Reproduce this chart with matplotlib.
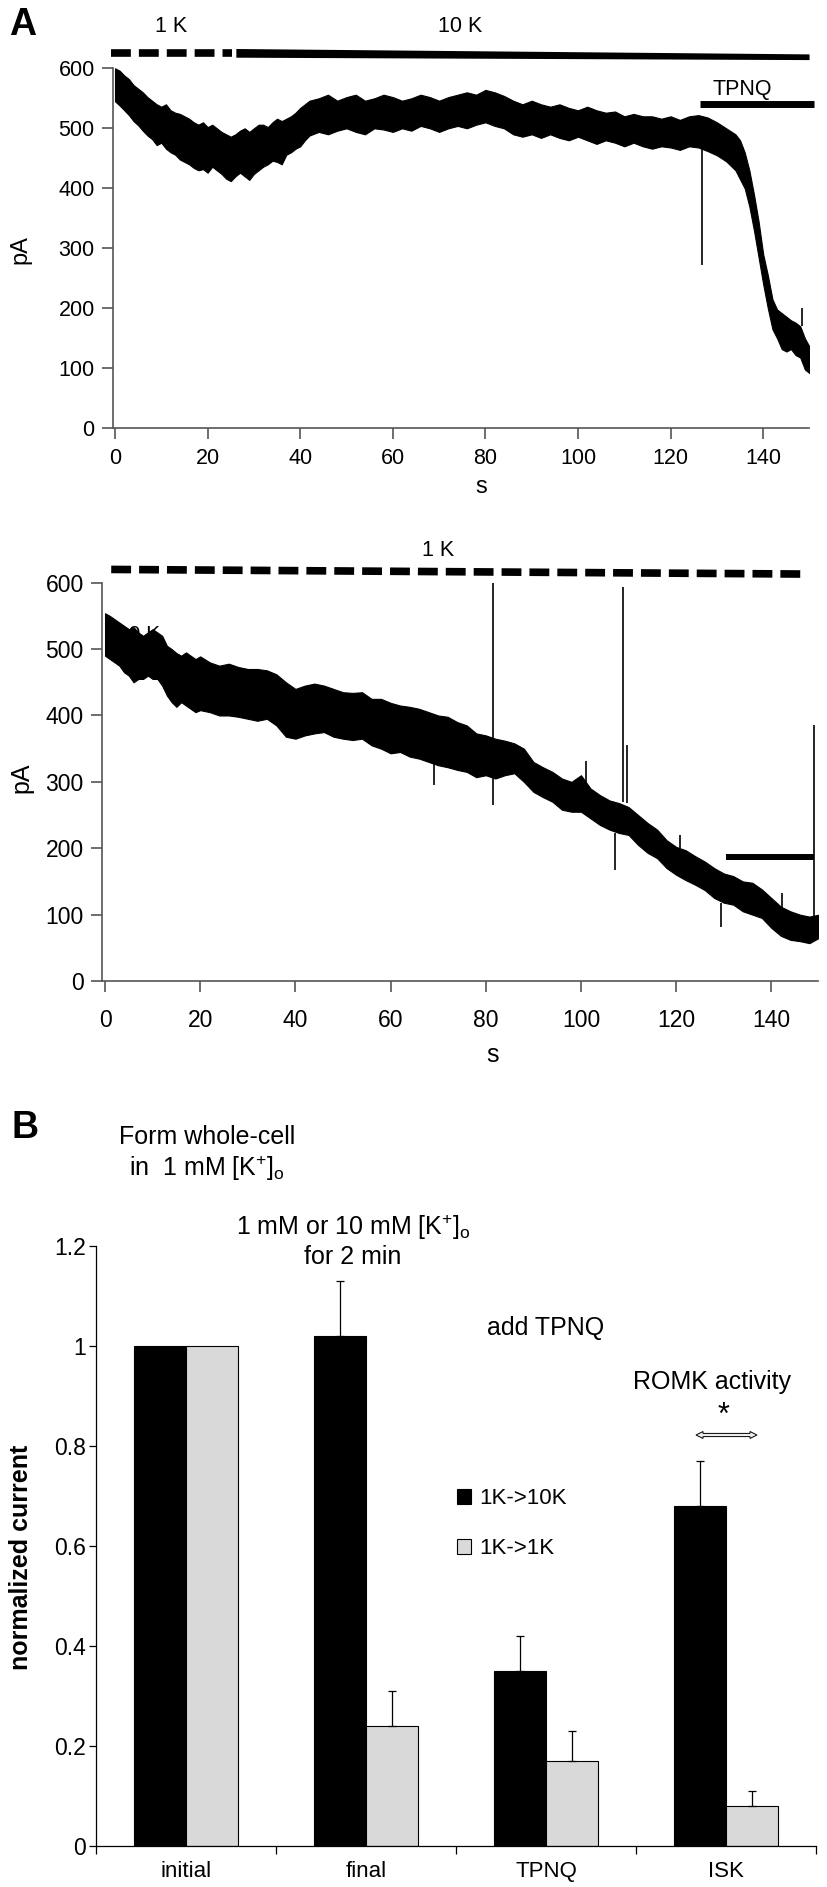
import matplotlib
matplotlib.use('Agg')
import matplotlib.pyplot as plt
import numpy as np
from matplotlib.patches import Polygon

plt.rcParams['font.family'] = ['Liberation Sans', 'DejaVu Sans']
plt.rcParams['mathtext.fontset'] = 'custom'
plt.rcParams['mathtext.rm'] = 'Liberation Sans'
plt.rcParams['mathtext.it'] = 'Liberation Sans:italic'

# ---- panel A, top trace: 1K -> 10K, then TPNQ (band = low/high envelope, pA)
top_t = [0, 1, 2, 3, 4, 5, 6, 7, 8, 9, 10, 11, 12, 13, 14, 15, 16, 17, 18, 19,
         20, 21, 22, 23, 24, 25, 26, 27, 28, 29, 30, 31, 32, 33, 34, 35, 36, 37, 38, 39,
         40, 41, 42, 44, 46, 48, 50, 52, 54, 56, 58, 60, 62, 64, 66, 68, 70, 72, 74, 76,
         78, 80, 82, 84, 86, 88, 90, 92, 94, 96, 98, 100, 102, 104, 106, 108, 110, 112, 114, 116,
         118, 120, 122, 124, 126, 128, 130, 132, 134, 135, 136, 137, 138, 139, 140, 141, 142, 143, 144, 145,
         146, 147, 148, 149, 150]
top_lo = [545, 538, 530, 522, 512, 505, 496, 488, 482, 472, 476, 466, 460, 456, 448, 444, 440, 434, 430, 432,
          426, 436, 430, 424, 416, 412, 420, 426, 420, 414, 424, 430, 436, 440, 446, 444, 440, 456, 460, 466,
          470, 480, 488, 494, 490, 496, 500, 494, 490, 500, 498, 494, 500, 496, 504, 500, 494, 500, 504, 500,
          506, 510, 504, 500, 490, 486, 490, 484, 490, 484, 480, 486, 480, 474, 480, 476, 470, 476, 470, 466,
          470, 468, 464, 470, 468, 462, 455, 445, 430, 415, 400, 370, 330, 285, 240, 200, 165, 150, 132, 128,
          132, 122, 118, 98, 92]
top_hi = [600, 596, 588, 582, 572, 566, 560, 552, 546, 540, 536, 540, 530, 526, 524, 520, 516, 510, 506, 510,
          502, 506, 500, 494, 490, 486, 490, 496, 500, 494, 500, 506, 506, 502, 510, 516, 512, 516, 520, 526,
          534, 540, 546, 550, 556, 546, 552, 556, 546, 550, 556, 552, 546, 550, 556, 552, 546, 552, 556, 560,
          556, 564, 560, 554, 546, 540, 546, 540, 536, 540, 534, 530, 536, 530, 526, 528, 520, 524, 520, 520,
          516, 520, 514, 520, 522, 518, 510, 500, 490, 480, 460, 430, 390, 345, 290, 255, 215, 198, 192, 186,
          180, 176, 170, 150, 136]
top_spk_t = [126.8, 148.3]
top_spk_lo = [272, 170]
top_spk_hi = [470, 200]

# ---- panel A, bottom trace: 1K -> 1K
bot_t = [0, 1, 2, 3, 4, 5, 6, 7, 8, 9, 10, 11, 12, 13, 14, 15, 16, 17, 18, 19, 20,
         22, 24, 26, 28, 30, 32, 34, 36, 38, 40, 42, 44, 46, 48, 50, 52, 54, 56, 58, 60,
         62, 64, 66, 68, 70, 72, 74, 76, 78, 80, 82, 84, 86, 88, 90, 92, 94, 96, 98, 100,
         102, 104, 106, 108, 110, 112, 114, 116, 118, 120, 122, 124, 126, 128, 130, 132, 134, 136, 138, 140,
         142, 144, 146, 148, 150]
bot_lo = [490, 485, 480, 475, 465, 460, 450, 455, 455, 460, 455, 455, 445, 430, 420, 413, 420, 415, 410, 405, 408,
          405, 400, 400, 398, 395, 392, 395, 385, 368, 365, 370, 373, 375, 368, 365, 363, 365, 355, 350, 343,
          345, 338, 335, 330, 325, 322, 318, 315, 307, 310, 305, 310, 313, 300, 285, 277, 270, 258, 255, 255,
          245, 235, 228, 223, 220, 205, 193, 185, 170, 160, 152, 145, 137, 125, 118, 115, 105, 100, 95, 80,
          68, 62, 60, 57, 65]
bot_hi = [554, 550, 545, 540, 535, 530, 533, 525, 520, 525, 530, 525, 520, 505, 500, 494, 490, 495, 490, 485, 489,
          480, 475, 478, 473, 470, 470, 468, 462, 450, 440, 445, 448, 445, 440, 435, 434, 435, 425, 425, 419,
          415, 413, 410, 405, 400, 398, 390, 385, 373, 370, 365, 362, 358, 350, 330, 322, 315, 305, 300, 310,
          290, 280, 272, 268, 262, 250, 238, 228, 212, 202, 197, 188, 180, 170, 162, 158, 150, 148, 138, 125,
          112, 105, 100, 97, 100]
bot_spk_t = [69.2, 81.6, 101.0, 107.1, 108.9, 109.6, 120.8, 129.5, 142.2, 148.9]
bot_spk_lo = [295, 265, 290, 167, 270, 268, 200, 81, 112, 81]
bot_spk_hi = [333, 601, 332, 223, 594, 355, 220, 118, 132, 385]

# ---- panel B, bar chart
cats = ['initial', 'final', 'TPNQ', 'ISK']
k10_mean = [1.0, 1.02, 0.35, 0.68]
k10_err = [0, 0.11, 0.07, 0.09]
k1_mean = [1.0, 0.24, 0.17, 0.08]
k1_err = [0, 0.07, 0.06, 0.03]

W, H = 828, 1887
fig = plt.figure(figsize=(W / 100, H / 100), dpi=100)


def px_axes(left, top, right, bottom):
    return fig.add_axes([left / W, 1 - bottom / H, (right - left) / W, (bottom - top) / H])


def ftext(x, y, s, **kw):
    kw.setdefault('ha', 'center')
    kw.setdefault('va', 'center')
    fig.text(x / W, 1 - y / H, s, **kw)


def trace_style(ax, size, xpad):
    for side in ['top', 'right']:
        ax.spines[side].set_visible(False)
    for side in ['left', 'bottom']:
        ax.spines[side].set_color('#555555')
        ax.spines[side].set_linewidth(1.2)
    ax.set_ylim(0, 600)
    ax.set_yticks(range(0, 601, 100))
    ax.set_xticks(range(0, 141, 20))
    ax.tick_params(axis='y', color='#555555', width=1.2, length=8, labelsize=size, pad=5)
    ax.tick_params(axis='x', color='#555555', width=1.2, length=8, labelsize=size, pad=xpad)


# top trace
ax1 = px_axes(112.7, 68.3, 809.5, 428.3)
ax1.set_xlim(-0.5, 150)
trace_style(ax1, 15.5, 6)
ax1.fill_between(top_t, top_lo, top_hi, color='black', lw=0.8)
ax1.vlines(top_spk_t, top_spk_lo, top_spk_hi, color='black', lw=1.2)
# solution bars
ax1.plot([-0.9, 25.3], [625.5, 625.5], color='black', lw=5.5,
         linestyle=(0, (2.6, 1.05)), solid_capstyle='butt', clip_on=False)
ax1.fill_between([26.1, 149.9], [618.5, 614.5], [633.0, 624.0], color='black', lw=0, clip_on=False)
ax1.plot([126.4, 151.0], [540, 540], color='black', lw=5, solid_capstyle='butt', clip_on=False)
ax1.text(12.1, 669, '1 K', ha='center', va='center', fontsize=15.5)
ax1.text(74.5, 669, '10 K', ha='center', va='center', fontsize=15.5)
ax1.text(135.5, 564, 'TPNQ', ha='center', va='center', fontsize=15.5)
ftext(23, 25, 'A', fontsize=27, fontweight='bold')
ftext(481, 487, 's', fontsize=17)
ftext(20, 250, 'pA', fontsize=17, rotation=90)

# bottom trace
ax2 = px_axes(101.7, 582.7, 818, 981)
ax2.set_xlim(-0.7, 149.8)
trace_style(ax2, 16.5, 12)
ax2.text(7.0, 522, '10 K', ha='center', va='center', fontsize=15, zorder=1)
ax2.fill_between(bot_t, bot_lo, bot_hi, color='black', lw=0.8, zorder=2)
ax2.vlines(bot_spk_t, bot_spk_lo, bot_spk_hi, color='black', lw=1.2, zorder=2)
ax2.plot([1.3, 147.3], [620, 613], color='black', lw=5.5,
         linestyle=(0, (2.6, 1.05)), solid_capstyle='butt', clip_on=False)
ax2.plot([130.4, 148.9], [187, 187], color='black', lw=4.3, solid_capstyle='butt')
ax2.text(70.0, 648, '1 K', ha='center', va='center', fontsize=15.5)
ftext(493, 1055, 's', fontsize=18)
ftext(21, 778, 'pA', fontsize=18, rotation=90)

# bar chart
ax3 = px_axes(96, 1245.7, 816, 1845.7)
x = np.arange(len(cats))
w = 0.29
b1 = ax3.bar(x - w / 2, k10_mean, w, color='black', edgecolor='black', lw=0.8, label='1K->10K')
b2 = ax3.bar(x + w / 2, k1_mean, w, color='#d9d9d9', edgecolor='black', lw=0.8, label='1K->1K')
for xs, m, e in [(x - w / 2, k10_mean, k10_err), (x + w / 2, k1_mean, k1_err)]:
    sel = np.array(e) > 0
    ax3.errorbar(xs[sel], np.array(m)[sel], yerr=[np.zeros(sel.sum()), np.array(e)[sel]],
                 fmt='none', ecolor='black', elinewidth=0.9, capsize=3, capthick=0.9)
ax3.set_xlim(-0.5, 3.5)
ax3.set_ylim(0, 1.2)
ax3.set_yticks([0, 0.2, 0.4, 0.6, 0.8, 1.0, 1.2])
ax3.set_yticklabels(['0', '0.2', '0.4', '0.6', '0.8', '1', '1.2'])
ax3.set_xticks(np.arange(-0.5, 3.6, 1.0))
ax3.set_xticklabels([])
ax3.set_xticks(x, minor=True)
ax3.set_xticklabels(cats, minor=True)
ax3.tick_params(axis='x', which='major', length=6, width=0.9)
ax3.tick_params(axis='x', which='minor', length=0, pad=11, labelsize=16)
ax3.tick_params(axis='y', length=5, width=0.9, pad=2, labelsize=16.5)
for side in ['top', 'right']:
    ax3.spines[side].set_visible(False)
for side in ['left', 'bottom']:
    ax3.spines[side].set_linewidth(0.9)
ax3.set_ylabel('normalized current', fontsize=18, fontweight='bold')
ax3.yaxis.set_label_coords((33 - 96) / 720, (1845.7 - 1557) / 600)
ax3.legend(handles=[b1, b2], loc='upper left', bbox_to_anchor=(457 / W, 1 - 1488 / H),
           bbox_transform=fig.transFigure, frameon=False, fontsize=16,
           handlelength=0.65, handleheight=0.65, handletextpad=0.35,
           labelspacing=1.3, borderpad=0, borderaxespad=0)

ftext(25, 1128, 'B', fontsize=27, fontweight='bold')
ftext(207, 1137, 'Form whole-cell', fontsize=18)
ftext(207, 1168, r'in  1 mM [K$^{+}$]$_{\mathrm{o}}$', fontsize=18)
ftext(353, 1227, r'1 mM or 10 mM [K$^{+}$]$_{\mathrm{o}}$', fontsize=18)
ftext(353, 1257, 'for 2 min', fontsize=18)
ftext(546, 1328, 'add TPNQ', fontsize=18)
ftext(712, 1382, 'ROMK activity', fontsize=18)
ftext(724, 1416, '*', fontsize=22)

# hollow double arrow over the ISK pair
x0, x1, yc, hl, hw, sw = 696, 757, 1435, 7, 3.5, 1.6
pts = [(x0, yc), (x0 + hl, yc - hw), (x0 + hl, yc - sw), (x1 - hl, yc - sw), (x1 - hl, yc - hw),
       (x1, yc), (x1 - hl, yc + hw), (x1 - hl, yc + sw), (x0 + hl, yc + sw), (x0 + hl, yc + hw)]
fig.patches.append(Polygon([(p / W, 1 - q / H) for p, q in pts], closed=True,
                           transform=fig.transFigure, facecolor='#ececec',
                           edgecolor='black', lw=0.7))

fig.savefig('out.png', dpi=100)
